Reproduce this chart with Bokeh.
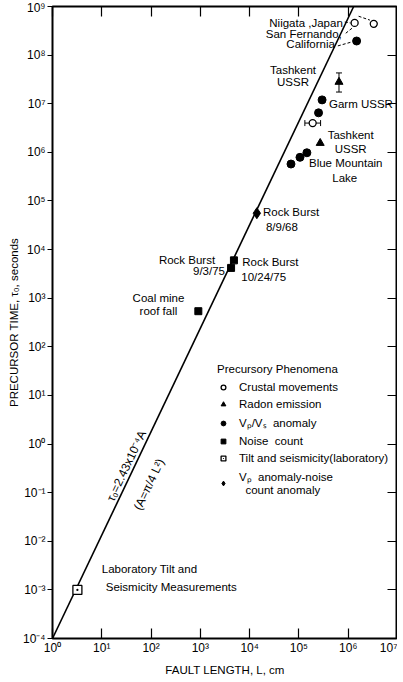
from bokeh.plotting import figure
from bokeh.models import (LogAxis, FixedTicker, CustomJSTickFormatter, Legend, LegendItem,
                          Whisker, ColumnDataSource, Label, TeeHead)
from bokeh.embed import file_html
from bokeh.resources import INLINE

FONT = "Liberation Sans"
TXT = "11.5px"

# ---------------- data ----------------
x_ticks = [1e0, 1e1, 1e2, 1e3, 1e4, 1e5, 1e6, 1e7]
y_ticks = [1e-4, 1e-3, 1e-2, 1e-1, 1e0, 1e1, 1e2, 1e3, 1e4, 1e5, 1e6, 1e7, 1e8, 1e9]

# Crustal movements (open circles)
crustal_L = [1.35e6, 3.3e6, 1.9e5]
crustal_t = [4.6e8, 4.4e8, 4.0e6]
crustal_err_L = [1.32e5]      # horizontal error bar of the 3rd point
crustal_err_U = [2.75e5]
crustal_err_t = [4.0e6]

# Radon emission (triangles)
radon_L = [6.5e5, 2.7e5]
radon_t = [2.8e7, 1.55e6]
radon_err_x = [6.5e5]
radon_err_lo = [1.74e7]
radon_err_hi = [4.3e7]

# Vp/Vs anomaly (filled circles)
vpvs_L = [1.48e6, 2.95e5, 2.5e5, 6.9e4, 1.05e5, 1.45e5]
vpvs_t = [1.95e8, 1.2e7, 6.5e6, 5.75e5, 7.9e5, 9.8e5]

# Noise count (filled squares)
noise_L = [4.8e3, 4.2e3, 9.1e2]
noise_t = [6.0e3, 4.2e3, 5.4e2]

# Tilt and seismicity (laboratory)
tilt_L = [3.2]
tilt_t = [1.0e-3]

# Vp anomaly - noise count anomaly (diamond)
vpnoise_L = [1.4e4]
vpnoise_t = [5.6e4]

# fitted line tau0 = 2.43e-4 A (end points)
line_L = [1.0, 1.29e6]
line_t = [1.0e-4, 1.0e9]

# ---------------- figure ----------------
p = figure(width=397, height=679, x_axis_type="log", y_axis_type="log",
           x_range=(1, 1e7), y_range=(1e-4, 1e9),
           output_backend="svg", toolbar_location=None,
           min_border_left=52, min_border_right=0, min_border_top=6, min_border_bottom=41)
p.grid.visible = False
p.outline_line_color = "black"
p.outline_line_width = 2
p.background_fill_color = "white"

fmt_code = """
const sup = {'-':'\u207b','0':'\u2070','1':'\u00b9','2':'\u00b2','3':'\u00b3','4':'\u2074',
             '5':'\u2075','6':'\u2076','7':'\u2077','8':'\u2078','9':'\u2079'};
const e = Math.round(Math.log10(tick));
return '10' + String(e).split('').map(c => sup[c]).join('');
"""

def style_axis(ax, ticks, labels=True):
    ax.ticker = FixedTicker(ticks=ticks)
    ax.minor_tick_line_color = None
    ax.axis_line_color = None
    ax.major_tick_line_color = "black"
    ax.major_tick_line_width = 1.2
    if labels:
        ax.formatter = CustomJSTickFormatter(code=fmt_code)
        ax.major_label_text_font = FONT
        ax.major_label_text_font_size = "12px"
        ax.major_label_text_color = "black"
        ax.major_label_standoff = 2
        ax.axis_label_text_font = FONT
        ax.axis_label_text_font_size = TXT
        ax.axis_label_text_font_style = "normal"
        ax.axis_label_text_color = "black"
        ax.axis_label_standoff = 3
    else:
        ax.formatter = CustomJSTickFormatter(code="return '';")
        ax.major_label_text_font_size = "1px"
        ax.major_label_standoff = 0

style_axis(p.xaxis[0], x_ticks)
p.xaxis[0].major_tick_in = 10
p.xaxis[0].major_tick_out = 0
p.xaxis[0].axis_label = "FAULT LENGTH, L, cm"
p.xaxis[0].axis_label_standoff = 6

style_axis(p.yaxis[0], y_ticks)
p.yaxis[0].major_tick_in = 0
p.yaxis[0].major_tick_out = 5
p.yaxis[0].axis_label = "PRECURSOR TIME, \u03c4\u2080, seconds"
p.yaxis[0].axis_label_standoff = 0

top = LogAxis()
style_axis(top, x_ticks, labels=False)
top.major_tick_in = 10
top.major_tick_out = 0
p.add_layout(top, "above")

right = LogAxis()
style_axis(right, y_ticks, labels=False)
right.major_tick_in = 10
right.major_tick_out = 0
p.add_layout(right, "right")

# ---------------- line ----------------
p.line(line_L, line_t, line_color="black", line_width=1.6)

# ---------------- error bars ----------------
head = dict(size=6, line_color="black", line_width=1)
p.add_layout(Whisker(source=ColumnDataSource(dict(b=radon_err_x, lo=radon_err_lo, hi=radon_err_hi)),
                     base="b", lower="lo", upper="hi", dimension="height",
                     line_color="black", line_width=1,
                     upper_head=TeeHead(**head), lower_head=TeeHead(**head)))
p.add_layout(Whisker(source=ColumnDataSource(dict(b=crustal_err_t, lo=crustal_err_L, hi=crustal_err_U)),
                     base="b", lower="lo", upper="hi", dimension="width",
                     line_color="black", line_width=1,
                     upper_head=TeeHead(**head), lower_head=TeeHead(**head)))

# ---------------- markers ----------------
r_crust = p.scatter(crustal_L, crustal_t, marker="circle", size=7, fill_color="white",
                    line_color="black", line_width=1.3)
r_radon = p.scatter(radon_L, radon_t, marker="triangle", size=8, fill_color="black", line_color="black")
r_vpvs = p.scatter(vpvs_L, vpvs_t, marker="circle", size=8, fill_color="black", line_color="black")
r_noise = p.scatter(noise_L, noise_t, marker="square", size=7, fill_color="black", line_color="black")
r_tilt = p.scatter(tilt_L, tilt_t, marker="square_dot", size=9, fill_color="white",
                   line_color="black", line_width=1.3)
r_vpn = p.scatter(vpnoise_L, vpnoise_t, marker="diamond", size=11, fill_color="black", line_color="black")

# ---------------- leader lines (dashed) ----------------
lead_x0 = [10**5.93, 10**6.21, 10**5.95, 10**5.79]
lead_y0 = [10**8.68, 10**8.80, 10**8.45, 10**8.19]
lead_x1 = [10**6.05, 10**6.44, 10**6.11, 10**6.07]
lead_y1 = [10**8.66, 10**8.72, 10**8.58, 10**8.27]
p.segment(lead_x0, lead_y0, lead_x1, lead_y1, line_color="black", line_width=1, line_dash="3 2")

# ---------------- annotations ----------------
def lab(txt, lx, ly, align="left", size=TXT, angle=0.0):
    p.add_layout(Label(x=10**lx, y=10**ly, text=txt, text_font=FONT, text_font_size=size,
                       text_align=align, text_baseline="middle", text_color="black",
                       angle=angle))

lab("Niigata ,Japan", 5.89, 8.66, "right")
lab("San Fernando,", 5.87, 8.43, "right")
lab("California", 5.73, 8.22, "right")
lab("Tashkent", 4.88, 7.69, "center")
lab("USSR", 4.88, 7.45, "center")
lab("Garm USSR", 5.61, 6.99)
lab("Tashkent", 6.05, 6.36, "center")
lab("USSR", 6.05, 6.07, "center")
lab("Blue Mountain", 5.95, 5.78, "center")
lab("Lake", 5.93, 5.47, "center")
lab("Rock Burst", 4.27, 4.77)
lab("8/9/68", 4.33, 4.46)
lab("Rock Burst", 3.30, 3.78, "right")
lab("9/3/75", 3.50, 3.56, "right")
lab("Rock Burst", 3.85, 3.74)
lab("10/24/75", 3.83, 3.43)
lab("Coal mine", 2.15, 3.00, "center")
lab("roof fall", 2.15, 2.73, "center")
lab("Laboratory Tilt and", 1.00, -2.57)
lab("Seismicity Measurements", 1.08, -2.94)
lab("\u03c4\u2080=2.43x10\u207b\u2074A", 1.50, -0.45, "center", "12px", 1.128)
lab("(A=\u03c0/4 L\u00b2)", 1.96, -0.83, "center", "12px", 1.128)

# ---------------- legend ----------------
legend = Legend(items=[
    LegendItem(label="Crustal movements", renderers=[r_crust]),
    LegendItem(label="Radon emission", renderers=[r_radon]),
    LegendItem(label="V\u209a/V\u209b  anomaly", renderers=[r_vpvs]),
    LegendItem(label="Noise  count", renderers=[r_noise]),
    LegendItem(label="Tilt and seismicity(laboratory)", renderers=[r_tilt]),
    LegendItem(label="V\u209a  anomaly-noise\n  count anomaly", renderers=[r_vpn]),
], location=(165, 142), title="Precursory Phenomena",
    title_text_font=FONT, title_text_font_size=TXT, title_text_font_style="normal",
    title_text_color="black", title_standoff=6,
    label_text_font=FONT, label_text_font_size=TXT, label_text_color="black",
    label_height=12, glyph_height=12, glyph_width=12, spacing=5, label_standoff=10,
    padding=0, margin=0, border_line_color=None, background_fill_alpha=0)
p.add_layout(legend, "center")

open("out.html", "w").write(file_html(p, INLINE))
